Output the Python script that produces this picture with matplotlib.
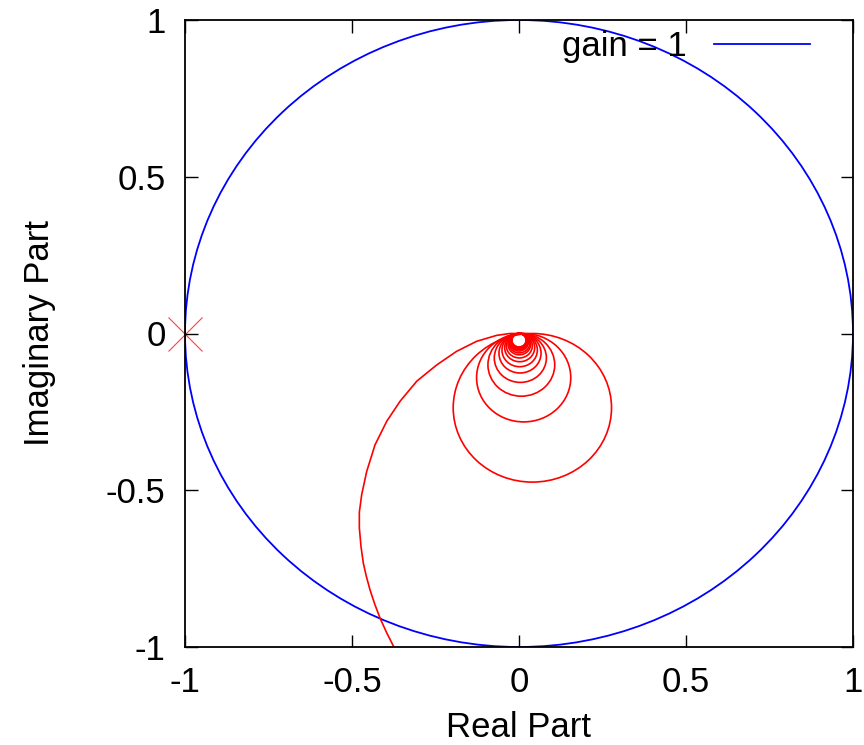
import numpy as np
import matplotlib
matplotlib.use("Agg")
import matplotlib.pyplot as plt
from matplotlib.patches import Circle

plt.rcParams["font.family"] = ["Liberation Sans", "DejaVu Sans"]

# ── Data ───────────────────────────────────────
# approach arm of the red locus (real, imag)
arm_re = [-0.370, -0.376, -0.396, -0.416, -0.432, -0.446, -0.457, -0.466,
          -0.473, -0.478, -0.478, -0.471, -0.456, -0.431, -0.396, -0.356,
          -0.306, -0.246, -0.187, -0.127, -0.067, -0.027, 0.0]
arm_im = [-1.02, -0.997, -0.955, -0.908, -0.863, -0.818, -0.775, -0.733,
          -0.680, -0.620, -0.570, -0.514, -0.440, -0.355, -0.280, -0.216,
          -0.152, -0.100, -0.057, -0.025, -0.006, 0.0, 0.0]

# loops hanging under the origin: centre x and radius (all touch imag = 0)
loop_cx = [0.040, 0.014, 0.007, 0.004, 0.003, 0.002, 0.002, 0.001, 0.001,
           0.001, 0.0, 0.0, 0.0, 0.0, 0.0, 0.0, 0.0, 0.0]
loop_r = [0.237, 0.141, 0.100, 0.078, 0.063, 0.053, 0.045, 0.039, 0.034,
          0.031, 0.028, 0.026, 0.0245, 0.0235, 0.0228, 0.0222, 0.0218, 0.0215]
loop_top = 0.0

ticks = [-1, -0.5, 0, 0.5, 1]
tick_labels = ["-1", "-0.5", "0", "0.5", "1"]

gain = 1

# ── Plot ───────────────────────────────────────
fig = plt.figure(figsize=(8.64, 7.45), dpi=100)
ax = fig.add_axes([185 / 864, 98 / 745, 668 / 864, 627 / 745])

# unit circle (gain = 1)
ax.add_patch(Circle((0, 0), gain, fill=False, edgecolor="#0000ff",
                    linewidth=1.3, zorder=2))
ax.plot([], [], color="#0000ff", linewidth=1.3, label=f"gain = {gain}")

# red locus
ax.plot(arm_re, arm_im, color="#ff0000", linewidth=1.2, zorder=2)
for cx, r in zip(loop_cx, loop_r):
    ax.add_patch(Circle((cx, loop_top - r), r, fill=False,
                        edgecolor="#ff0000", linewidth=1.2, zorder=2))

# critical point
ax.plot([-1], [0], marker="x", markersize=25, markeredgewidth=0.8,
        color="#ff4040", linestyle="none", clip_on=False, zorder=1.5)

ax.set_xlim(-1, 1)
ax.set_ylim(-1, 1)
ax.set_xticks(ticks)
ax.set_xticklabels(tick_labels)
ax.set_yticks(ticks)
ax.set_yticklabels(tick_labels)
ax.tick_params(direction="in", length=9, width=1, top=True, right=True,
               labelsize=25, pad=14, colors="black")
for s in ax.spines.values():
    s.set_linewidth(1.3)

ax.set_xlabel("Real Part", fontsize=25, labelpad=8)
ax.set_ylabel("Imaginary Part", fontsize=25, labelpad=36)

ax.legend(loc="center right", bbox_to_anchor=(0.9356, 0.957),
          frameon=False, markerfirst=False, fontsize=25,
          handlelength=2.75, handletextpad=0.8, borderpad=0,
          borderaxespad=0)

fig.savefig("out.png", dpi=100)
